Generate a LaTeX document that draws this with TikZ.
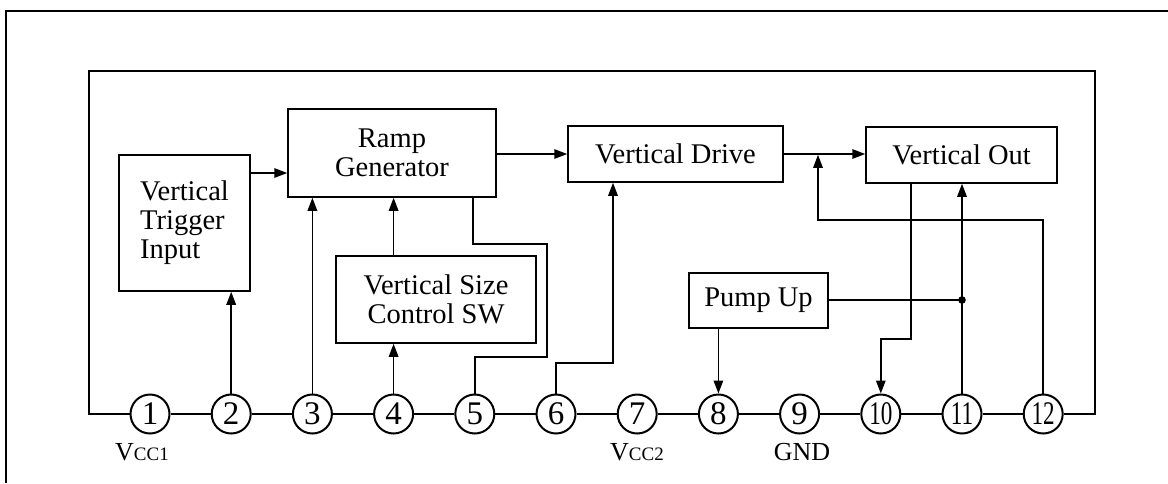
\documentclass[tikz,border=0pt]{standalone}
\usepackage{fontspec}
\setmainfont{Liberation Serif}
\usetikzlibrary{arrows.meta,calc}
\begin{document}
\begin{tikzpicture}[x=1pt,y=-1pt,
  blk/.style={draw,line width=1.5pt,inner sep=0pt,font=\fontsize{28.5}{29}\selectfont,align=center},
  pin/.style={draw,circle,line width=2pt,minimum size=39pt,inner sep=0pt,font=\fontsize{33}{33}\selectfont},
  wire/.style={line width=1.5pt},
  frame/.style={line width=2.2pt},
  arr/.style={wire,-{Triangle[length=13pt,width=9.5pt]}},
  lbl/.style={font=\fontsize{26}{26}\selectfont,anchor=base,inner sep=0pt}
]
\useasboundingbox (0,0) rectangle (1168,483);
% outer frame
\draw[line width=1.6pt] (6,483) -- (6,11) -- (1168,11);
% blocks
\node[blk,minimum width=131pt,minimum height=136pt,align=left] (trig) at (184.5,223) {Vertical\\Trigger\\Input};
\node[blk,minimum width=208pt,minimum height=88pt] (ramp) at (392,153) {Ramp\\Generator};
\node[blk,minimum width=215pt,minimum height=56pt] (drive) at (675.5,154) {Vertical Drive};
\node[blk,minimum width=191pt,minimum height=56pt] (out) at (961.5,155) {Vertical Out};
\node[blk,minimum width=200pt,minimum height=87pt] (vsc) at (436,299.5) {Vertical Size\\Control SW};
\node[blk,minimum width=139pt,minimum height=55pt] (pump) at (758.5,300.5) {Pump Up};
% pins
\foreach \i in {1,...,9} \node[pin] (p\i) at ({150+81.2*(\i-1)},414) {\i};
\foreach \i in {10,11,12} \node[pin] (p\i) at ({150+81.2*(\i-1)},414) {\scalebox{0.7}[1]{\i}};
% pin chain and inner frame
\draw[frame] (p1.west) -- (89,414) -- (89,71) -- (1095,71) -- (1095,414) -- (p12.east);
\foreach \i [evaluate=\i as \j using int(\i+1)] in {1,...,11} \draw[frame] (p\i.east) -- (p\j.west);
% coordinates
\coordinate (ta) at (0,173);
\coordinate (c5) at (473,244);
\coordinate (c6) at (613,363);
\coordinate (o10) at (911,339);
\coordinate (dot) at (962,300);
\coordinate (fb) at (818,154.8);
% connectors
\draw[arr] (trig.east |- ta) -- (ramp.west |- ta);
\draw[arr] (ramp.east |- drive.west) -- (drive.west);
\draw[arr] (drive.east) -- (out.west |- drive.east);
\draw[arr] (p2.north) -- (p2 |- trig.south);
\draw[arr] (p3.north) -- (p3 |- ramp.south);
\draw[arr] (p4.north) -- (p4 |- vsc.south);
\draw[arr] (vsc.north -| p4) -- (p4 |- ramp.south);
\draw[wire] (p5.north) |- (547,357) |- (c5) -- (ramp.south -| c5);
\draw[arr] (p6.north) |- (c6) -- (c6 |- drive.south);
\draw[arr] (pump.south -| p8) -- (p8.north);
\draw[arr] (out.south -| o10) -- (o10) -| (p10.north);
\draw[arr] (p11.north) -- (p11 |- out.south);
\draw[wire] (pump.east |- dot) -- (dot);
\fill (dot) circle (3.8pt);
\draw[arr] (p12.north) |- (818,220) -- (fb);
% labels
\node[lbl] (l1) at (142,460) {V{\fontsize{19}{19}\selectfont CC1}};
\node[lbl] (l7) at (637,460) {V{\fontsize{19}{19}\selectfont CC2}};
\node[lbl] (l9) at (802,460) {GND};
\end{tikzpicture}
\end{document}
